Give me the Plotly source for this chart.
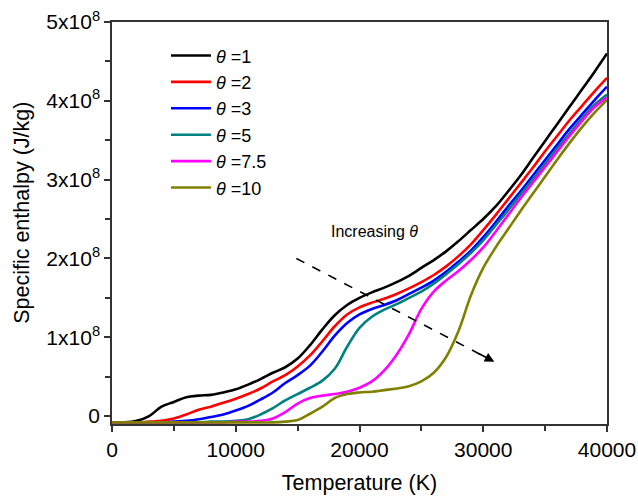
import plotly.graph_objects as go

# Temperature grid (K)
temperature = [i * 1000 for i in range(41)]

# Specific enthalpy (units of 1e8 J/kg)
h_theta_1 = [-0.08, -0.08, -0.06, 0.00, 0.12, 0.18, 0.24, 0.26, 0.27, 0.30,
             0.34, 0.40, 0.47, 0.55, 0.62, 0.73, 0.90, 1.10, 1.28, 1.41,
             1.50, 1.57, 1.63, 1.70, 1.78, 1.88, 1.98, 2.09, 2.22, 2.36,
             2.50, 2.66, 2.85, 3.05, 3.27, 3.49, 3.71, 3.93, 4.15, 4.37, 4.60]
h_theta_2 = [-0.08, -0.08, -0.08, -0.07, -0.06, -0.03, 0.02, 0.08, 0.12, 0.17,
             0.22, 0.28, 0.35, 0.44, 0.52, 0.63, 0.77, 0.95, 1.14, 1.29,
             1.38, 1.44, 1.49, 1.55, 1.62, 1.70, 1.79, 1.90, 2.03, 2.18,
             2.36, 2.55, 2.75, 2.95, 3.15, 3.36, 3.56, 3.76, 3.94, 4.12, 4.29]
h_theta_3 = [-0.08, -0.08, -0.08, -0.08, -0.08, -0.07, -0.06, -0.04, -0.01, 0.02,
             0.07, 0.13, 0.21, 0.30, 0.42, 0.52, 0.64, 0.82, 1.02, 1.18,
             1.29, 1.36, 1.41, 1.47, 1.55, 1.63, 1.72, 1.83, 1.96, 2.10,
             2.27, 2.46, 2.66, 2.85, 3.05, 3.25, 3.45, 3.65, 3.83, 4.01, 4.18]
h_theta_5 = [-0.08, -0.08, -0.08, -0.08, -0.08, -0.08, -0.08, -0.08, -0.07, -0.07,
             -0.06, -0.04, 0.02, 0.10, 0.20, 0.28, 0.36, 0.45, 0.60, 0.88,
             1.12, 1.26, 1.35, 1.42, 1.50, 1.58, 1.68, 1.80, 1.93, 2.07,
             2.23, 2.42, 2.61, 2.81, 3.00, 3.20, 3.40, 3.59, 3.78, 3.95, 4.08]
h_theta_75 = [-0.08, -0.08, -0.08, -0.08, -0.08, -0.08, -0.08, -0.08, -0.08, -0.08,
              -0.07, -0.07, -0.06, -0.03, 0.05, 0.16, 0.23, 0.26, 0.28, 0.31,
              0.36, 0.44, 0.58, 0.78, 1.04, 1.36, 1.58, 1.72, 1.84, 1.98,
              2.14, 2.34, 2.55, 2.76, 2.96, 3.16, 3.36, 3.56, 3.75, 3.92, 4.04]
h_theta_10 = [-0.08, -0.08, -0.08, -0.08, -0.08, -0.08, -0.08, -0.08, -0.08, -0.08,
              -0.08, -0.08, -0.08, -0.08, -0.07, -0.05, 0.03, 0.12, 0.23, 0.28,
              0.30, 0.31, 0.33, 0.35, 0.38, 0.44, 0.55, 0.75, 1.08, 1.53,
              1.88, 2.14, 2.37, 2.60, 2.82, 3.04, 3.26, 3.47, 3.67, 3.85, 4.01]

series_names = ["<i>θ</i> =1", "<i>θ</i> =2", "<i>θ</i> =3", "<i>θ</i> =5",
                "<i>θ</i> =7.5", "<i>θ</i> =10"]
series_values = [h_theta_1, h_theta_2, h_theta_3, h_theta_5, h_theta_75, h_theta_10]
series_colors = ["#000000", "#ff0000", "#0000ff", "#008080", "#ff00ff", "#808000"]

y_tickvals = [0, 1e8, 2e8, 3e8, 4e8, 5e8]
y_ticktext = ["0", "1x10<sup>8</sup>", "2x10<sup>8</sup>", "3x10<sup>8</sup>",
              "4x10<sup>8</sup>", "5x10<sup>8</sup>"]
x_tickvals = [0, 10000, 20000, 30000, 40000]

# Arrow "Increasing theta" (data coords)
arrow_start = (14900, 2.00e8)
arrow_end = (30900, 0.69e8)

fig = go.Figure()
for name, vals, col in zip(series_names, series_values, series_colors):
    fig.add_trace(go.Scatter(
        x=temperature, y=[v * 1e8 for v in vals], mode="lines", name=name,
        line=dict(color=col, width=2.6, shape="spline", smoothing=1.0)))

font_family = "Arial, Liberation Sans, sans-serif"

fig.add_shape(type="line", xref="x", yref="y",
              x0=arrow_start[0], y0=arrow_start[1],
              x1=arrow_end[0] - 600, y1=arrow_end[1] + 0.049e8,
              line=dict(color="black", width=1.6, dash="dash"))
fig.add_annotation(x=arrow_end[0], y=arrow_end[1], xref="x", yref="y",
                   ax=arrow_end[0] - 1400, ay=arrow_end[1] + 0.114e8,
                   axref="x", ayref="y", text="", showarrow=True,
                   arrowhead=2, arrowsize=1.2, arrowwidth=1.6, arrowcolor="black")
fig.add_annotation(x=21200, y=2.34e8, xref="x", yref="y",
                   text="Increasing <i>θ</i>", showarrow=False,
                   font=dict(size=16, color="black", family=font_family))
# y-axis title placed to match the reference position
fig.add_annotation(x=-0.182, y=0.525, xref="paper", yref="paper",
                   text="Specific enthalpy (J/kg)", textangle=-90, showarrow=False,
                   xanchor="center", yanchor="middle",
                   font=dict(size=21.5, color="black", family=font_family))

fig.update_layout(
    width=638, height=496,
    margin=dict(l=112, r=31, t=22, b=72),
    paper_bgcolor="white", plot_bgcolor="white",
    font=dict(family=font_family, color="black"),
    showlegend=True,
    legend=dict(x=0.109, y=0.962, xanchor="left", yanchor="top",
                bgcolor="rgba(0,0,0,0)", font=dict(size=18, family=font_family),
                itemwidth=40, tracegroupgap=0),
)
fig.update_xaxes(
    range=[0, 40000], tickvals=x_tickvals, ticktext=[str(v) for v in x_tickvals],
    automargin=False,
    showgrid=False, zeroline=False, showline=True, linecolor="#333333", linewidth=1.5,
    mirror=True, ticks="outside", ticklen=6, tickwidth=1.5, tickcolor="#333333",
    minor=dict(tick0=0, dtick=5000, ticks="outside", ticklen=5, tickwidth=1.5, tickcolor="#333333"),
    tickfont=dict(size=21), title=dict(text="Temperature (K)", font=dict(size=21.5)),
)
fig.update_yaxes(
    range=[-0.1e8, 5e8], tickmode="array", tickvals=y_tickvals, ticktext=y_ticktext,
    automargin=False,
    showgrid=False, zeroline=False, showline=True, linecolor="#333333", linewidth=1.5,
    mirror=True, ticks="outside", ticklen=6, tickwidth=1.5, tickcolor="#333333",
    minor=dict(tick0=0, dtick=0.5e8, ticks="outside", ticklen=5, tickwidth=1.5, tickcolor="#333333"),
    tickfont=dict(size=21),
)

fig.write_html("out.html")
